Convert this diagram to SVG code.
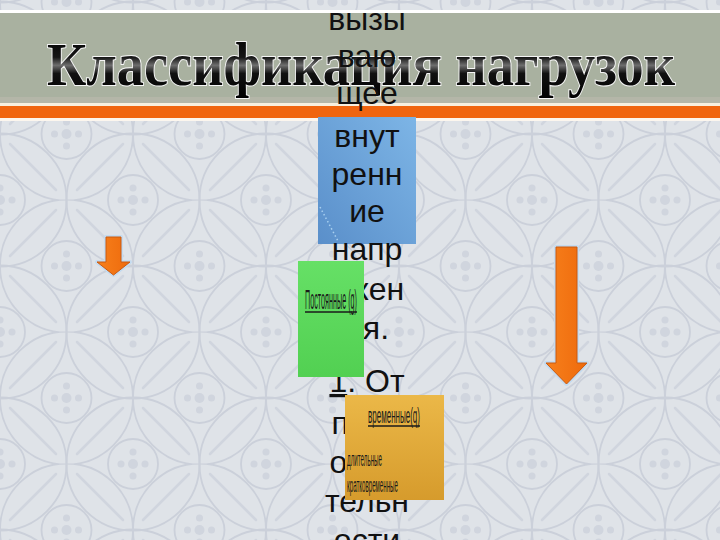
<svg xmlns="http://www.w3.org/2000/svg" width="720" height="540" viewBox="0 0 720 540">
  <defs>
    <pattern id="bgpat" patternUnits="userSpaceOnUse" x="0" y="68" width="133" height="132">
      <rect width="133" height="132" fill="#dfe3e8"/>
      <g fill="none" stroke="#cbd0da" stroke-width="1.8">
        <circle cx="66.5" cy="66" r="66.5"/>
        <circle cx="0" cy="0" r="66.5"/>
        <circle cx="133" cy="0" r="66.5"/>
        <circle cx="0" cy="132" r="66.5"/>
        <circle cx="133" cy="132" r="66.5"/>
        <circle cx="66.5" cy="66" r="25"/>
        <circle cx="0" cy="0" r="25"/>
        <circle cx="133" cy="0" r="25"/>
        <circle cx="0" cy="132" r="25"/>
        <circle cx="133" cy="132" r="25"/>
      </g>
      <g stroke="#d0d5de" stroke-width="2.5" stroke-linecap="round">
        <line x1="10" y1="56" x2="56" y2="10"/>
        <line x1="77" y1="10" x2="123" y2="56"/>
        <line x1="10" y1="76" x2="56" y2="122"/>
        <line x1="77" y1="122" x2="123" y2="76"/>
      </g>
      <g fill="#d0d5de">
        <circle cx="66.5" cy="66" r="5"/>
        <circle cx="66.5" cy="54" r="3.5"/><circle cx="66.5" cy="78" r="3.5"/>
        <circle cx="54.5" cy="66" r="3.5"/><circle cx="78.5" cy="66" r="3.5"/>
        <circle cx="0" cy="0" r="5"/><circle cx="133" cy="0" r="5"/>
        <circle cx="0" cy="132" r="5"/><circle cx="133" cy="132" r="5"/>
        <circle cx="0" cy="12" r="3.5"/><circle cx="12" cy="0" r="3.5"/>
        <circle cx="133" cy="12" r="3.5"/><circle cx="121" cy="0" r="3.5"/>
        <circle cx="0" cy="120" r="3.5"/><circle cx="12" cy="132" r="3.5"/>
        <circle cx="133" cy="120" r="3.5"/><circle cx="121" cy="132" r="3.5"/>
      </g>
    </pattern>
    <linearGradient id="titleGrad" x1="0" y1="0" x2="0" y2="1">
      <stop offset="0" stop-color="#000"/>
      <stop offset="0.4" stop-color="#151515"/>
      <stop offset="0.52" stop-color="#6e6e6e"/>
      <stop offset="0.64" stop-color="#111"/>
      <stop offset="1" stop-color="#000"/>
    </linearGradient>
    <linearGradient id="blueGrad" x1="0" y1="1" x2="1" y2="0">
      <stop offset="0" stop-color="#5a8fca"/>
      <stop offset="1" stop-color="#7db5e6"/>
    </linearGradient>
    <linearGradient id="greenGrad" x1="0" y1="0" x2="0" y2="1">
      <stop offset="0" stop-color="#66e066"/>
      <stop offset="1" stop-color="#52d052"/>
    </linearGradient>
    <linearGradient id="goldGrad" x1="0" y1="0" x2="0" y2="1">
      <stop offset="0" stop-color="#ebb848"/>
      <stop offset="1" stop-color="#d69b2c"/>
    </linearGradient>
    <linearGradient id="arrowGrad" x1="0" y1="0" x2="1" y2="0">
      <stop offset="0" stop-color="#f7801c"/>
      <stop offset="1" stop-color="#ee6a0c"/>
    </linearGradient>
    <style>
      .col { font-family: "Liberation Sans", Arial, sans-serif; font-size: 32px; fill: #111; text-anchor: middle; }
      .small { font-family: "Liberation Sans", Arial, sans-serif; fill: #1a1a1a; }
      .arrow-halo { fill: none; stroke: #c4dbf0; stroke-width: 4; stroke-linejoin: round; }
      .arrow-body { fill: url(#arrowGrad); stroke: #c85a12; stroke-width: 1; stroke-linejoin: round; }
    </style>
  </defs>

  <!-- background -->
  <rect x="0" y="0" width="720" height="540" fill="url(#bgpat)"/>

  <!-- header bands -->
  <g id="header">
    <rect x="0" y="10" width="720" height="3" fill="#ffffff"/>
    <rect x="0" y="13" width="720" height="86" fill="#a9b1a0"/>
    <rect x="0" y="97" width="720" height="6" fill="#b4b6a8"/>
    <rect x="0" y="103" width="720" height="3" fill="#f7efdf"/>
    <rect x="0" y="106" width="720" height="12" fill="#f0650f"/>
    <rect x="0" y="118" width="720" height="3" fill="#fcf6ee"/>
  </g>

  <!-- title -->
  <g id="title">
    <text x="361" y="85" text-anchor="middle" textLength="628" lengthAdjust="spacingAndGlyphs" font-family="Liberation Serif, serif" font-weight="bold" font-size="62" fill="url(#titleGrad)" stroke="#f6f6f6" stroke-width="2" paint-order="stroke">Классификация нагрузок</text>
  </g>

  <!-- blue box -->
  <g id="box-blue">
    <rect x="318" y="117" width="98" height="127" fill="url(#blueGrad)"/>
    <line x1="320" y1="207" x2="338" y2="241" stroke="#a9d0f0" stroke-width="1.5" stroke-dasharray="1.5 2.5"/>
  </g>

  <!-- body text column -->
  <g id="body-text" class="col">
    <text x="367" y="30" class="col">вызы</text>
    <text x="367" y="67" class="col">ваю</text>
    <text x="367" y="104" class="col">щее</text>
    <text x="367" y="147" class="col">внут</text>
    <text x="367" y="185" class="col">ренн</text>
    <text x="367" y="222" class="col">ие</text>
    <text x="367" y="260" class="col">напр</text>
    <text x="367" y="300" class="col">яжен</text>
    <text x="367" y="339" class="col">ия.</text>
    <text x="367" y="392" class="col"><tspan text-decoration="underline">1</tspan>. От</text>
    <text x="367" y="434" class="col">прод</text>
    <text x="367" y="473" class="col">олжи</text>
    <text x="367" y="512" class="col">тельн</text>
    <text x="367" y="551" class="col">ости</text>
  </g>

  <!-- green box -->
  <g id="box-green">
    <rect x="298" y="261" width="66" height="116" fill="url(#greenGrad)"/>
    <text x="305" y="309" class="small" font-size="27" textLength="52" lengthAdjust="spacingAndGlyphs">Постоянные (g)</text>
    <line x1="305" y1="312" x2="357" y2="312" stroke="#1a1a1a" stroke-width="1.5"/>
  </g>

  <!-- yellow box -->
  <g id="box-yellow">
    <rect x="345" y="395" width="99" height="105" fill="url(#goldGrad)"/>
    <text x="368" y="423" class="small" font-size="22" textLength="52" lengthAdjust="spacingAndGlyphs">временные(q)</text>
    <line x1="368" y1="426" x2="420" y2="426" stroke="#1a1a1a" stroke-width="1.3"/>
    <text x="347" y="466" class="small" font-size="20" textLength="35" lengthAdjust="spacingAndGlyphs">длительные</text>
    <text x="347" y="492" class="small" font-size="20" textLength="51" lengthAdjust="spacingAndGlyphs">кратковременные</text>
  </g>

  <!-- block arrows -->
  <g id="connectors">
    <g id="arrow-left">
      <path class="arrow-halo" d="M106,237 H121 V262 H130 L113.5,275 L97,262 H106 Z"/>
      <path class="arrow-body" d="M106,237 H121 V262 H130 L113.5,275 L97,262 H106 Z"/>
    </g>
    <g id="arrow-right">
      <path class="arrow-halo" d="M556,247 H577 V363 H587 L566.5,384 L546,363 H556 Z"/>
      <path class="arrow-body" d="M556,247 H577 V363 H587 L566.5,384 L546,363 H556 Z"/>
    </g>
  </g>
</svg>
